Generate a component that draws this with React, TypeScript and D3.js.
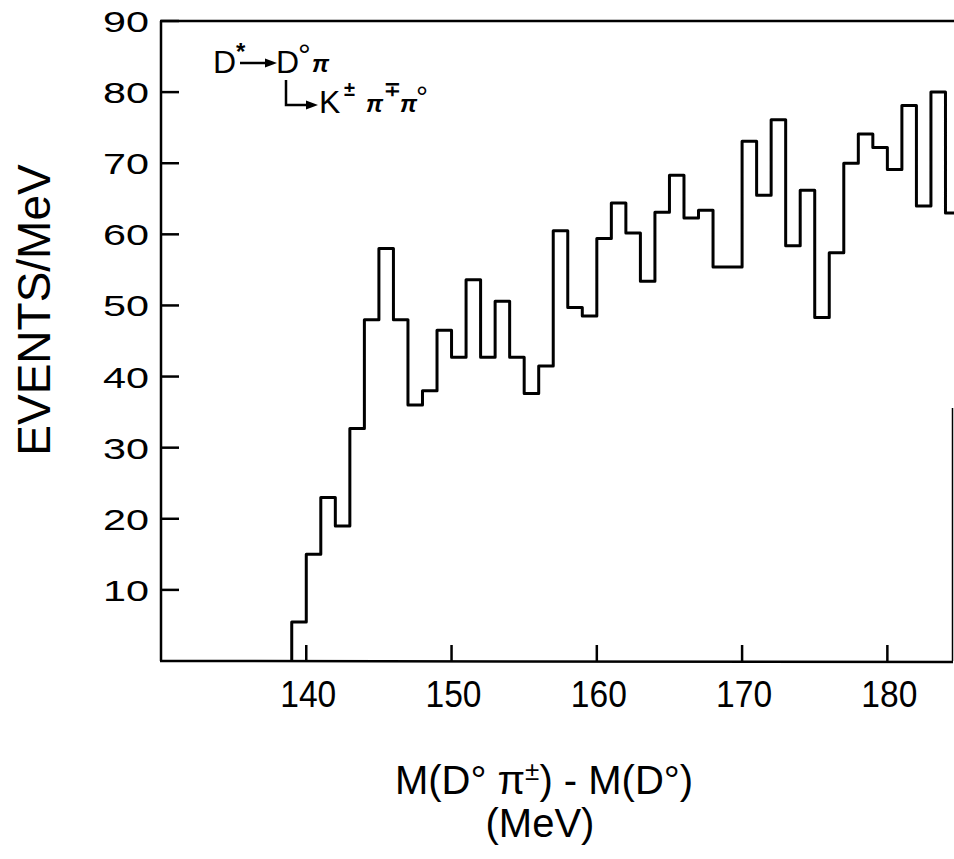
import React from "react";
import * as d3 from "d3";

// Bin lower edges (MeV), 1 MeV bins
const binStarts: number[] = [
  139, 140, 141, 142, 143, 144, 145, 146, 147, 148, 149,
  150, 151, 152, 153, 154, 155, 156, 157, 158, 159,
  160, 161, 162, 163, 164, 165, 166, 167, 168, 169,
  170, 171, 172, 173, 174, 175, 176, 177, 178, 179,
  180, 181, 182, 183, 184,
];
// Events per MeV in each bin
const binCounts: number[] = [
  5.5, 15, 23, 19, 32.7, 48, 58, 48, 36, 38, 46.5,
  42.7, 53.6, 42.7, 50.6, 42.7, 37.6, 41.5, 60.5, 49.7, 48.5,
  59.4, 64.4, 60.2, 53.4, 63.1, 68.3, 62.3, 63.4, 55.4, 55.4,
  73.1, 65.5, 76.1, 58.4, 66.2, 48.3, 57.4, 70, 74.1, 72.2,
  69.1, 78.1, 64, 80, 63,
];
const binWidth = 1;
const xTicks: number[] = [140, 150, 160, 170, 180];
const yTicks: number[] = [10, 20, 30, 40, 50, 60, 70, 80, 90];

const W = 954;
const H = 859;

export default function App() {
  const x = d3.scaleLinear().domain([130, 185]).range([161, 960]);
  const y = d3.scaleLinear().domain([0, 90]).range([661, 21]);

  const pts: [number, number][] = [[binStarts[0], 0]];
  binStarts.forEach((b, i) => pts.push([b, binCounts[i]]));
  const last = binStarts.length - 1;
  pts.push([binStarts[last] + binWidth, binCounts[last]]);

  const line = d3
    .line<[number, number]>()
    .x((d) => x(d[0]))
    .y((d) => y(d[1]))
    .curve(d3.curveStepAfter);

  const x0 = x(130);
  const yBase = y(0);
  const font = "'Liberation Sans', Arial, sans-serif";

  return (
    <svg
      width={W}
      height={H}
      viewBox={`0 0 ${W} ${H}`}
      style={{ position: "absolute", left: 0, top: 0, background: "#fff" }}
    >
      <rect x={0} y={0} width={W} height={H} fill="#fff" />
      <defs>
        <clipPath id="plotclip">
          <rect x={x0} y={0} width={W - x0} height={yBase + 2} />
        </clipPath>
      </defs>

      {/* frame */}
      <line x1={x0} y1={y(90)} x2={x0} y2={yBase} stroke="#000" strokeWidth={2.5} />
      <line x1={x0 - 1} y1={yBase} x2={953} y2={yBase + 1} stroke="#000" strokeWidth={2.5} />
      <line x1={x0 - 1} y1={y(90)} x2={W} y2={y(90)} stroke="#000" strokeWidth={2.5} />
      <line x1={952.5} y1={408} x2={952.5} y2={yBase} stroke="#000" strokeWidth={1.5} />

      {/* y ticks */}
      {yTicks.map((t) => (
        <g key={"y" + t}>
          <line x1={x0} x2={x0 + 18} y1={y(t)} y2={y(t)} stroke="#000" strokeWidth={2.5} />
          <text
            x={149}
            y={y(t) + 11}
            textAnchor="end"
            fontFamily={font}
            fontSize={30}
            textLength={46}
            lengthAdjust="spacingAndGlyphs"
          >
            {t}
          </text>
        </g>
      ))}

      {/* x ticks */}
      {xTicks.map((t) => (
        <g key={"x" + t}>
          <line x1={x(t)} x2={x(t)} y1={yBase} y2={yBase - 16} stroke="#000" strokeWidth={2.5} />
          <text
            x={x(t) + 2}
            y={707}
            textAnchor="middle"
            fontFamily={font}
            fontSize={37}
            textLength={56}
            lengthAdjust="spacingAndGlyphs"
          >
            {t}
          </text>
        </g>
      ))}

      {/* histogram */}
      <path
        d={line(pts) || ""}
        fill="none"
        stroke="#000"
        strokeWidth={3}
        strokeLinejoin="round"
        clipPath="url(#plotclip)"
      />

      {/* y title */}
      <text
        transform="translate(50,310) rotate(-90)"
        textAnchor="middle"
        fontFamily={font}
        fontSize={46}
      >
        EVENTS/MeV
      </text>

      {/* x title */}
      <text x={544} y={794} textAnchor="middle" fontFamily={font} fontSize={40}>
        M(D° π
        <tspan fontSize={26} dy={-14}>±</tspan>
        <tspan dy={14}>) - M(D°)</tspan>
      </text>
      <text x={540} y={837} textAnchor="middle" fontFamily={font} fontSize={40}>
        (MeV)
      </text>

      {/* decay annotation */}
      <g fontFamily={font} fill="#000">
        <text x={213} y={73} fontSize={32}>D</text>
        <text x={236} y={60} fontSize={24} fontWeight="bold">*</text>
        <line x1={240} y1={63} x2={268} y2={63} stroke="#000" strokeWidth={2.5} />
        <path d="M277,63 L265,58.5 L265,67.5 Z" fill="#000" />
        <text x={276} y={73} fontSize={32}>D</text>
        <text x={298} y={66} fontSize={32}>°</text>
        <text x={312} y={72} fontSize={24} fontStyle="italic" fontWeight="bold">π</text>

        <path d="M286,80 V105 H310" fill="none" stroke="#000" strokeWidth={2.5} />
        <path d="M318,105 L306,100.5 L306,109.5 Z" fill="#000" />
        <text x={319} y={113} fontSize={32}>K</text>
        <text x={344} y={96} fontSize={20} fontWeight="bold">±</text>
        <text x={366} y={112} fontSize={24} fontStyle="italic" fontWeight="bold">π</text>
        <text x={384} y={96} fontSize={20} fontWeight="bold">∓</text>
        <text x={400} y={112} fontSize={24} fontStyle="italic" fontWeight="bold">π</text>
        <text x={416} y={107} fontSize={30}>°</text>
      </g>
    </svg>
  );
}
